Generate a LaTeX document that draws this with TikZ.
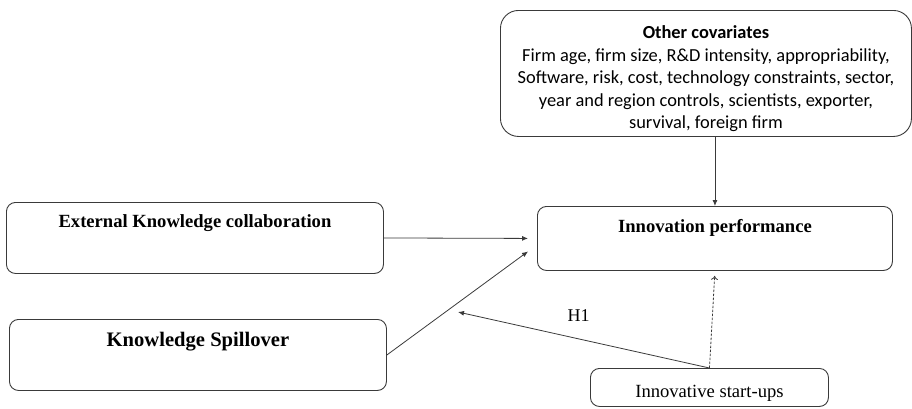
\documentclass[tikz,border=0pt]{standalone}
\usepackage{fontspec}
\setmainfont{Liberation Serif}
\newfontfamily\covfont{Carlito}
\usepackage{tikz}
\usetikzlibrary{arrows.meta,positioning}
\definecolor{linegray}{HTML}{3A3A3A}
\tikzset{box/.style={draw=linegray,line width=0.9pt,rounded corners=9pt,inner sep=0pt,anchor=north west,
    font=\fontsize{18.6pt}{22pt}\selectfont}}
\tikzset{conn/.style={-{Latex[length=6pt,width=5pt]},color=linegray,line width=0.8pt}}
\newcommand{\Btitle}[1]{\textbf{#1}}

\begin{document}
\begin{tikzpicture}[x=1pt,y=-1pt]
\useasboundingbox (0,0) rectangle (912,408);
% \draw[help lines] (0,0) grid (912,408);
\node (cov) [box,rounded corners=18pt,minimum width=411pt,minimum height=126pt,align=center,
    font=\covfont\fontsize{18.4pt}{22.5pt}\selectfont] at (500,10)
    {\rule{0pt}{24pt}\textbf{Other covariates}\\Firm age, firm size, R\&D intensity, appropriability,\\
     Software, risk, cost, technology constraints, sector,\\year and region controls, scientists, exporter,\\
     survival, foreign firm};
\node (ext) [box,minimum width=377pt,text height=25pt,text depth=46pt] at (6,202) {\Btitle{External Knowledge collaboration}};
\node (spill) [box,minimum width=377pt,text height=27pt,text depth=44pt,font=\fontsize{20.6pt}{24pt}\selectfont] at (9,319) {\Btitle{Knowledge Spillover}};
\node (perf) [box,minimum width=355pt,text height=26pt,text depth=38pt] at (537,206) {\Btitle{Innovation performance}};
\node (start) [box,minimum width=238pt,text height=29pt,text depth=9pt] at (590,368) {Innovative start-ups};
\coordinate (h1tip) at (458,312);
%
\path[conn] (cov.south -| perf.north) edge (perf.north);
\path[conn,shorten >=9pt] (ext.east) edge (perf.west);
\path[conn] (spill.east) edge ([xshift=-9pt,yshift=-13pt]perf.west);
\path[conn] (start.north) edge node[pos=0.52,above=14pt,text=black,font=\fontsize{18pt}{20pt}\selectfont] {H1} (h1tip);
%
\path[-{To[length=4pt,width=7pt]},color=linegray,line width=0.8pt,dash pattern=on 2.5pt off 1.5pt,shorten >=5pt] (start.north) edge (perf.south);
\end{tikzpicture}
\end{document}
